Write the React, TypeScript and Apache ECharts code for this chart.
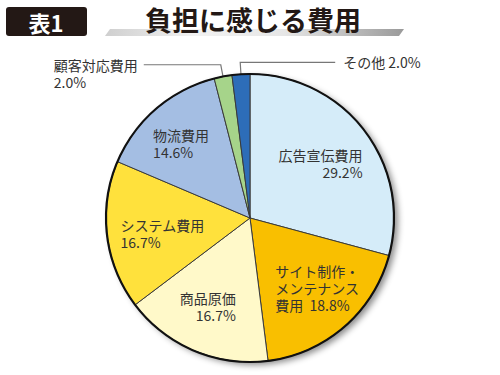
import React, { useEffect, useRef } from "react";
import * as echarts from "echarts";

const categories = [
  "広告宣伝費用",
  "サイト制作・メンテナンス費用",
  "商品原価",
  "システム費用",
  "物流費用",
  "顧客対応費用",
  "その他",
];
const shares = [29.2, 18.8, 16.7, 16.7, 14.6, 2.0, 2.0];
const labelNames = [
  "広告宣伝費用",
  "サイト制作・\nメンテナンス\n費用",
  "商品原価",
  "システム費用",
  "物流費用",
  "顧客対応費用",
  "その他",
];
const labelSeparators = ["\n", "  ", "\n", "\n", "\n", "\n", " "];
const sliceColors = ["#d5ecf9", "#f9bf00", "#fff9c9", "#ffe13c", "#a4bee3", "#a6d48a", "#2d6db8"];
const chartTitle = "負担に感じる費用";
const tableTag = "表1";

// label placement tweaks (offsets from library-computed anchors)
const insideAlign = ["right", "left", "right", "left", "left"];
const insideOffsets = [
  [53, -9],
  [-24, 13],
  [15, 19],
  [-55, 6],
  [-48, -18],
];
const outsideHorizontal = [0, 0, 0, 0, 0, 77, 95];

const FONT = '"Noto Sans CJK JP", "Noto Sans", sans-serif';

export default function App() {
  const ref = useRef<HTMLDivElement>(null);
  useEffect(() => {
    if (!ref.current) return;
    const chart = echarts.init(ref.current, undefined, { renderer: "svg" });
    const data = categories.map((name, i) => {
      const outside = i >= 5;
      return {
        name,
        value: shares[i],
        itemStyle: { color: sliceColors[i] },
        label: {
          position: outside ? "outside" : "inside",
        },
        labelLine: {
          show: outside,
          length: 12,
          length2: outsideHorizontal[i],
        },
      };
    });
    chart.setOption({
      animation: false,
      graphic: [
        {
          type: "rect",
          shape: { x: 6, y: 7, width: 81, height: 29, r: 3 },
          style: { fill: "#231815" },
        },
        {
          type: "text",
          x: 46,
          y: 22,
          style: {
            text: tableTag,
            fill: "#ffffff",
            font: `bold 22px ${FONT}`,
            align: "center",
            verticalAlign: "middle",
          },
        },
        {
          type: "polygon",
          shape: {
            points: [
              [110, 29],
              [404, 29],
              [399, 36],
              [105, 36],
            ],
          },
          style: {
            fill: new echarts.graphic.LinearGradient(0, 0, 1, 0, [
              { offset: 0, color: "#cfcfcf" },
              { offset: 0.3, color: "#f2f2f2" },
              { offset: 0.6, color: "#e6e6e6" },
              { offset: 1, color: "#9a9a9a" },
            ]),
          },
        },
        {
          type: "text",
          x: 253,
          y: 19,
          z: 10,
          style: {
            text: chartTitle,
            fill: "#231815",
            font: `bold 27px ${FONT}`,
            align: "center",
            verticalAlign: "middle",
          },
        },
      ],
      series: [
        {
          type: "pie",
          silent: true,
          center: [250, 218],
          radius: 144,
          z: 1,
          label: { show: false },
          labelLine: { show: false },
          itemStyle: {
            color: "#ffffff",
            shadowBlur: 6,
            shadowColor: "rgba(0,0,0,0.45)",
            shadowOffsetX: 4,
            shadowOffsetY: 3,
          },
          data: [{ value: 1, name: "shadow" }],
        },
        {
          type: "pie",
          center: [250, 218],
          radius: 144,
          z: 2,
          startAngle: 90,
          clockwise: true,
          avoidLabelOverlap: false,
          itemStyle: { borderColor: "#3a3a3a", borderWidth: 1 },
          label: {
            show: true,
            fontFamily: FONT,
            fontSize: 14,
            lineHeight: 17,
            color: "#333333",
            formatter: (p: any) =>
              labelNames[p.dataIndex] + labelSeparators[p.dataIndex] + p.value.toFixed(1) + "%",
          },
          labelLine: {
            lineStyle: { color: "#777777", width: 1.2 },
          },
          labelLayout: (params: any) => {
            const i = params.dataIndex;
            if (i < 5) {
              const r = params.labelRect;
              const cx = r.x + r.width / 2;
              const cy = r.y + r.height / 2;
              return {
                x: cx + insideOffsets[i][0],
                y: cy + insideOffsets[i][1],
                align: insideAlign[i],
                verticalAlign: "middle",
              };
            }
            const pts = params.labelLinePoints;
            if (!pts) return {};
            const p1 = pts[1];
            if (i === 5) {
              const end = [p1[0] - outsideHorizontal[i], p1[1]];
              return {
                x: end[0] - 6 - params.labelRect.width,
                y: end[1] - 8,
                align: "left",
                verticalAlign: "top",
                labelLinePoints: [pts[0], p1, end],
              };
            }
            const end = [p1[0] + outsideHorizontal[i], p1[1]];
            return {
              x: end[0] + 8,
              y: end[1],
              align: "left",
              verticalAlign: "middle",
              labelLinePoints: [pts[0], p1, end],
            };
          },
          data,
        },
        {
          type: "pie",
          silent: true,
          center: [250, 218],
          radius: 144,
          z: 3,
          label: { show: false },
          labelLine: { show: false },
          itemStyle: {
            color: "rgba(0,0,0,0)",
            borderColor: "#111111",
            borderWidth: 2.2,
          },
          data: [{ value: 1, name: "outline" }],
        },
      ],
    });
    return () => chart.dispose();
  }, []);
  return (
    <div
      ref={ref}
      style={{ position: "fixed", left: 0, top: 0, width: 500, height: 375, background: "#ffffff" }}
    />
  );
}
